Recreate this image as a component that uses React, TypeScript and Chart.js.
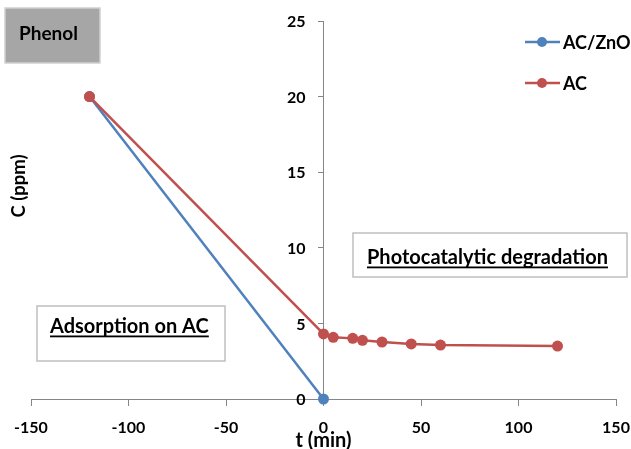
import React, { useEffect, useRef } from "react";
import { Chart, registerables } from "chart.js";

Chart.register(...registerables);

// ---- data ----
const acZnoTimes = [-120, 0];
const acZnoValues = [20, 0];
const acTimes = [-120, 0, 5, 15, 20, 30, 45, 60, 120];
const acValues = [20, 4.3, 4.08, 4.01, 3.88, 3.77, 3.64, 3.57, 3.5];
const seriesNames = ["AC/ZnO", "AC"];
const xTitle = "t (min)";
const yTitle = "C (ppm)";
const sampleLabel = "Phenol";
const leftNote = "Adsorption on AC";
const rightNote = "Photocatalytic degradation";

const BLUE = "#4F81BD";
const RED = "#C0504D";
const AXIS = "#868686";
const FONT = "Lato, 'Noto Sans', sans-serif";

const annotations = {
  id: "annotations",
  afterDraw(chart: any) {
    const ctx = chart.ctx as CanvasRenderingContext2D;
    ctx.save();

    // y tick labels (placed left of the axis drawn at x = 0)
    const ys = chart.scales.y;
    const axisX = chart.scales.x.getPixelForValue(0);
    ctx.fillStyle = "#000";
    ctx.font = `bold 16px ${FONT}`;
    ctx.textAlign = "right";
    ctx.textBaseline = "middle";
    for (const t of ys.ticks) {
      ctx.fillText(String(t.value), axisX - 18, ys.getPixelForValue(t.value) + 1);
    }

    // Phenol box
    ctx.textAlign = "left";
    ctx.fillStyle = "#A6A6A6";
    ctx.fillRect(5, 8, 95, 55);
    ctx.strokeStyle = "#D0D0D0";
    ctx.lineWidth = 1.5;
    ctx.strokeRect(5, 8, 95, 55);
    ctx.fillStyle = "#000";
    ctx.font = `bold 19px ${FONT}`;
    ctx.textBaseline = "alphabetic";
    ctx.fillText(sampleLabel, 19, 40);

    const noteBox = (x: number, y: number, w: number, h: number, text: string, tx: number, ty: number) => {
      ctx.fillStyle = "#fff";
      ctx.fillRect(x, y, w, h);
      ctx.strokeStyle = "#BFBFBF";
      ctx.lineWidth = 1.5;
      ctx.strokeRect(x, y, w, h);
      ctx.fillStyle = "#000";
      ctx.font = `bold 20px ${FONT}`;
      ctx.fillText(text, tx, ty);
      const w2 = ctx.measureText(text).width;
      ctx.fillRect(tx, ty + 2.5, w2, 1.8);
    };
    noteBox(37, 306, 188, 55, leftNote, 50, 333);
    noteBox(353, 233, 274, 44, rightNote, 367, 264);

    // legend
    const colors = [BLUE, RED];
    const ly = [42, 83];
    ctx.font = `bold 18px ${FONT}`;
    ctx.textBaseline = "middle";
    for (let i = 0; i < 2; i++) {
      ctx.strokeStyle = colors[i];
      ctx.lineWidth = 2.5;
      ctx.beginPath();
      ctx.moveTo(525, ly[i]);
      ctx.lineTo(560, ly[i]);
      ctx.stroke();
      ctx.fillStyle = colors[i];
      ctx.beginPath();
      ctx.arc(542, ly[i], 5, 0, Math.PI * 2);
      ctx.fill();
      ctx.fillStyle = "#000";
      ctx.fillText(seriesNames[i], 563, ly[i] + 1);
    }

    // y title
    ctx.translate(19, 186);
    ctx.rotate(-Math.PI / 2);
    ctx.textAlign = "center";
    ctx.font = `bold 18.5px ${FONT}`;
    ctx.fillText(yTitle, 0, 0);
    ctx.restore();
  },
};

export default function App() {
  const ref = useRef<HTMLCanvasElement | null>(null);
  useEffect(() => {
    if (!ref.current) return;
    const chart = new Chart(ref.current, {
      type: "line",
      data: {
        datasets: [
          {
            label: seriesNames[0],
            data: acZnoTimes.map((t, i) => ({ x: t, y: acZnoValues[i] })),
            borderColor: BLUE,
            backgroundColor: BLUE,
            borderWidth: 2.5,
            pointRadius: 5.5,
            pointBorderWidth: 0,
            order: 2,
            clip: false as any,
          },
          {
            label: seriesNames[1],
            data: acTimes.map((t, i) => ({ x: t, y: acValues[i] })),
            borderColor: RED,
            backgroundColor: RED,
            borderWidth: 2.5,
            pointRadius: 5.5,
            pointBorderWidth: 0,
            order: 1,
            clip: false as any,
          },
        ],
      },
      options: {
        responsive: false,
        animation: false,
        layout: { padding: { left: 31, right: 15, top: 21, bottom: 0 } },
        plugins: { legend: { display: false }, tooltip: { enabled: false } },
        scales: {
          x: {
            type: "linear",
            position: "bottom",
            min: -150,
            max: 150,
            ticks: { stepSize: 50, color: "#000", font: { family: FONT, size: 16, weight: "bold" }, padding: 12, maxRotation: 0 },
            grid: { drawOnChartArea: false, drawTicks: true, tickLength: 7, color: AXIS },
            border: { display: true, color: AXIS, width: 1 },
            title: { display: true, text: xTitle, color: "#000", font: { family: FONT, size: 20, weight: "bold", lineHeight: 1 }, padding: { top: 0, bottom: -2 } },
            afterFit: (s: any) => { s.height = 50; s.paddingLeft = 0; s.paddingRight = 0; },
          },
          y: {
            type: "linear",
            position: { x: 0 } as any,
            min: 0,
            max: 25,
            ticks: { stepSize: 5, display: false },
            grid: { drawOnChartArea: false, drawTicks: true, tickLength: 5, color: AXIS },
            border: { display: true, color: AXIS, width: 1 },
            afterFit: (s: any) => { s.paddingTop = 0; s.paddingBottom = 0; },
          },
        },
      },
      plugins: [annotations],
    });
    return () => chart.destroy();
  }, []);
  return (
    <div style={{ position: "absolute", left: 0, top: 0, width: 631, height: 449, background: "#fff" }}>
      <canvas ref={ref} width={631} height={449} style={{ width: 631, height: 449, display: "block" }} />
    </div>
  );
}
